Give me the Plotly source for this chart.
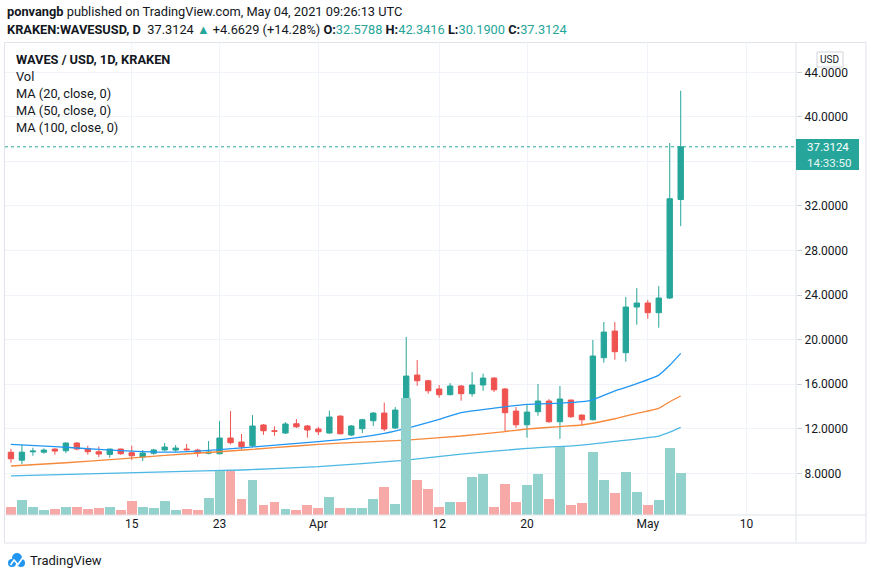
import plotly.graph_objects as go
import pandas as pd

# ---------------- data ----------------
start_date = "2021-03-04"
n_days = 62
dates = pd.date_range(start_date, periods=n_days, freq="D")

opens = [9.89, 9.18, 9.93, 9.90, 10.18, 10.03, 10.72, 10.20, 9.94, 9.70,
         10.18, 9.85, 9.46, 9.80, 10.10, 10.09, 10.18, 10.09, 9.80, 9.76,
         11.17, 10.81, 10.48, 12.34, 11.82, 11.62, 12.45, 12.25, 11.98, 11.62,
         13.14, 11.44, 12.00, 12.72, 13.41, 12.07, 13.62, 16.82, 16.31, 15.57,
         15.06, 15.84, 15.15, 15.93, 16.55, 15.57, 13.59, 12.36, 13.53, 14.49,
         12.63, 14.58, 13.23, 12.81, 18.38, 20.77, 18.83, 22.93, 23.29, 22.42,
         23.74, 32.5788]
highs = [10.19, 10.54, 10.30, 10.24, 10.24, 10.78, 10.80, 10.48, 10.40, 10.20,
         10.22, 10.48, 10.10, 10.20, 10.72, 10.54, 10.63, 10.20, 10.90, 12.69,
         13.59, 11.53, 13.23, 12.43, 12.22, 12.60, 12.87, 12.34, 12.18, 13.62,
         13.20, 12.34, 12.90, 13.50, 14.34, 13.95, 20.24, 18.17, 16.40, 15.93,
         16.10, 15.93, 17.09, 16.95, 16.64, 15.66, 13.95, 14.13, 16.02, 14.66,
         15.84, 14.60, 13.30, 19.97, 21.58, 21.58, 23.83, 24.63, 23.56, 24.81,
         37.65, 42.3416]
lows = [8.95, 8.83, 9.58, 9.76, 9.67, 9.82, 10.06, 9.67, 9.45, 9.40,
        9.67, 9.19, 9.10, 9.67, 9.98, 9.93, 10.06, 9.49, 9.70, 9.71,
        10.60, 10.15, 10.33, 11.46, 11.37, 11.53, 12.07, 11.20, 11.44, 11.55,
        11.50, 11.35, 11.62, 12.25, 11.80, 11.98, 13.62, 15.86, 15.15, 14.79,
        15.00, 14.52, 14.88, 15.40, 15.30, 11.80, 12.08, 11.20, 13.17, 12.54,
        11.10, 12.99, 12.31, 12.75, 17.93, 18.20, 18.02, 21.34, 21.88, 21.07,
        23.65, 30.19]
closes = [9.31, 9.90, 10.00, 10.09, 10.00, 10.72, 10.18, 9.94, 9.73, 10.18,
          9.76, 9.58, 9.82, 10.10, 10.36, 10.27, 10.12, 9.82, 9.90, 11.17,
          10.75, 10.39, 12.25, 11.82, 11.78, 12.43, 12.18, 11.89, 11.73, 13.05,
          11.55, 12.25, 12.81, 13.41, 11.98, 13.68, 16.73, 16.31, 15.41, 15.06,
          15.84, 15.15, 15.93, 16.55, 15.50, 13.44, 12.36, 13.50, 14.49, 12.63,
          14.67, 13.08, 12.81, 18.53, 20.68, 18.92, 22.93, 23.29, 22.42, 23.74,
          32.65, 37.3124]
# volume (relative units)
volumes = [8, 15, 8, 5, 6, 8, 8, 6, 7, 8, 5, 14, 8, 7, 14,
           5, 6, 5, 17, 44, 44, 16, 35, 10, 13, 6, 5, 10, 7,
           18, 7, 7, 7, 16, 28, 11, 117, 35, 26, 8, 13, 13,
           38, 41, 8, 31, 13, 30, 41, 16, 68, 10, 12, 63, 35,
           22, 43, 23, 10, 15, 67, 42]

# moving averages read at sampled days (day index from start, value)
ma20_idx = [0, 4, 8, 12, 15, 19, 23, 28, 31, 34, 36, 39, 41, 44, 47, 50, 52, 53, 55, 57, 59, 60, 61]
ma20_val = [10.6, 10.4, 10.15, 9.95, 9.9, 10.12, 10.45, 10.84, 11.14, 11.59, 12.04, 12.85,
            13.45, 13.85, 14.19, 14.3, 14.43, 14.6, 15.4, 16.05, 16.82, 17.7, 18.77]
ma50_idx = [0, 5, 10, 14, 19, 24, 28, 32, 36, 41, 45, 47, 50, 52, 55, 57, 59, 60, 61]
ma50_val = [8.66, 8.95, 9.3, 9.62, 9.94, 10.3, 10.6, 10.8, 10.99, 11.35, 11.75, 11.98,
            12.2, 12.34, 12.9, 13.39, 13.83, 14.43, 14.94]
ma100_idx = [0, 7, 14, 21, 28, 36, 41, 47, 52, 55, 59, 60, 61]
ma100_val = [7.78, 7.95, 8.14, 8.3, 8.6, 9.19, 9.72, 10.24, 10.54, 10.87, 11.35, 11.7, 12.13]

price_ticks = [8, 12, 16, 20, 24, 28, 32, 36, 40, 44]
hidden_price_ticks = [36]  # covered by the last-price label in the picture
date_ticks = ["2021-03-15", "2021-03-23", "2021-04-01", "2021-04-12", "2021-04-20", "2021-05-01", "2021-05-10"]
date_tick_labels = ["15", "23", "Apr", "12", "20", "May", "10"]
last_price = 37.3124
countdown = "14:33:50"

# ---------------- styling ----------------
W, H = 871, 579
L, R, T, B = 5, 75, 41, 64
UP, DOWN = "#26a69a", "#ef5350"
UP_VOL, DOWN_VOL = "#93d2cc", "#f7a9a7"
GRID = "#f0f3fa"
BORDER = "#e0e3eb"
TXT = "#131722"
FONT = "Roboto"

pw, ph = W - L - R, H - T - B
def px(x):
    return (x - L) / pw
def py(y):
    return (H - B - y) / ph

vol_colors = [UP_VOL if c >= o else DOWN_VOL for o, c in zip(opens, closes)]

fig = go.Figure()
fig.add_trace(go.Bar(x=dates, y=volumes, marker=dict(color=vol_colors, line=dict(width=0)),
                     width=0.9 * 86400000, yaxis="y2", hoverinfo="skip"))
for idx, val, col in [(ma100_idx, ma100_val, "#4cb8e4"),
                      (ma50_idx, ma50_val, "#f7893b"),
                      (ma20_idx, ma20_val, "#2196f3")]:
    fig.add_trace(go.Scatter(x=[dates[i] for i in idx], y=val, mode="lines",
                             line=dict(color=col, width=1.3, shape="spline", smoothing=0.5),
                             hoverinfo="skip"))
fig.add_trace(go.Candlestick(x=dates, open=opens, high=highs, low=lows, close=closes,
                             increasing=dict(line=dict(color=UP, width=1), fillcolor=UP),
                             decreasing=dict(line=dict(color=DOWN, width=1), fillcolor=DOWN),
                             whiskerwidth=0))

x0 = pd.Timestamp(start_date) - pd.Timedelta(hours=13)
x1 = pd.Timestamp(start_date) + pd.Timedelta(days=71.5)

shapes = [
    # chart frame
    dict(type="rect", xref="paper", yref="paper", x0=px(4.5), x1=px(866), y0=py(543), y1=py(42.5),
         line=dict(color=BORDER, width=1), layer="below"),
    dict(type="line", xref="paper", yref="paper", x0=px(796), x1=px(796), y0=py(543), y1=py(42.5),
         line=dict(color=BORDER, width=1)),
    dict(type="line", xref="paper", yref="paper", x0=px(4.5), x1=px(866), y0=py(515), y1=py(515),
         line=dict(color=BORDER, width=1)),
    # last price dotted line
    dict(type="line", xref="paper", yref="y", x0=0, x1=1, y0=last_price, y1=last_price,
         line=dict(color=UP, width=1, dash="dot")),
    # last price label box
    dict(type="rect", xref="paper", yref="paper", x0=px(796), x1=px(859), y0=py(170), y1=py(139),
         fillcolor=UP, line=dict(width=0)),
    # USD box
    dict(type="rect", xref="paper", yref="paper", x0=px(817), x1=px(843), y0=py(67), y1=py(52),
         line=dict(color="#d1d4dc", width=1), fillcolor="white"),
    # logo
    dict(type="circle", xref="paper", yref="paper", x0=px(8), x1=px(16), y0=py(567), y1=py(559),
         fillcolor="#2196f3", line=dict(width=0)),
    dict(type="circle", xref="paper", yref="paper", x0=px(12), x1=px(22), y0=py(563), y1=py(553),
         fillcolor="#2196f3", line=dict(width=0)),
    dict(type="circle", xref="paper", yref="paper", x0=px(17), x1=px(25), y0=py(567), y1=py(559),
         fillcolor="#2196f3", line=dict(width=0)),
    dict(type="path", xref="paper", yref="paper",
         path=f"M {px(10.5)} {py(565)} L {px(14)} {py(560)} L {px(18)} {py(564.5)} L {px(22.5)} {py(558)}",
         line=dict(color="white", width=1.6)),
]

ann = []
def add_text(x, y, text, size=12.5, color=TXT, anchor="left", bold=False, pad=1):
    ann.append(dict(xref="paper", yref="paper", x=px(x), y=py(y), text=(f"<b>{text}</b>" if bold else text),
                    showarrow=False, xanchor=anchor, yanchor="middle", align="left", borderpad=pad,
                    font=dict(family=FONT, size=size, color=color)))

add_text(5, 12, "<b>ponvangb</b> published on TradingView.com, May 04, 2021 09:26:13 UTC", 12.8)
tc = UP
add_text(5, 30, ("<b>KRAKEN:WAVESUSD, D</b>  37.3124 "
                 f"<span style='color:{tc}'>▲</span> +4.6629 (+14.28%) "
                 f"<b>O:</b><span style='color:{tc}'>32.5788</span> "
                 f"<b>H:</b><span style='color:{tc}'>42.3416</span> "
                 f"<b>L:</b><span style='color:{tc}'>30.1900</span> "
                 f"<b>C:</b><span style='color:{tc}'>37.3124</span>"), 12.8)
add_text(14, 60, "WAVES / USD, 1D, KRAKEN", 12.8, bold=True)
add_text(14, 77, "Vol", 12.8)
add_text(14, 94, "MA (20, close, 0)", 12.8)
add_text(14, 111, "MA (50, close, 0)", 12.8)
add_text(14, 128, "MA (100, close, 0)", 12.8)
add_text(806, 146.5, f"{last_price:.4f}", 11.5, color="white", pad=0)
add_text(806, 162.5, countdown, 11.5, color="#e6f5f3", pad=0)
add_text(830, 59.5, "USD", 10, anchor="center")
add_text(28, 560, "TradingView", 13)

fig.update_layout(
    width=W, height=H, margin=dict(l=L, r=R, t=T, b=B),
    paper_bgcolor="white", plot_bgcolor="white", showlegend=False,
    shapes=shapes, annotations=ann, bargap=0,
    xaxis=dict(type="date", range=[x0, x1], rangeslider=dict(visible=False),
               tickvals=date_ticks, ticktext=date_tick_labels, showgrid=True, gridcolor=GRID,
               zeroline=False, showline=False, ticks="", tickfont=dict(family=FONT, size=12, color=TXT)),
    yaxis=dict(side="right", range=[4.26, 46.81], tickvals=price_ticks,
               ticktext=["" if v in hidden_price_ticks else f"{v:.4f}" for v in price_ticks],
               showgrid=True, gridcolor=GRID,
               zeroline=False, showline=False, ticks="outside", ticklen=5, tickcolor="#d1d4dc",
               tickfont=dict(family=FONT, size=12, color=TXT)),
    yaxis2=dict(overlaying="y", range=[0, ph], visible=False, fixedrange=True),
)

fig.write_html("out.html", config={"displayModeBar": False},
               post_script="document.body.style.margin='0';")
